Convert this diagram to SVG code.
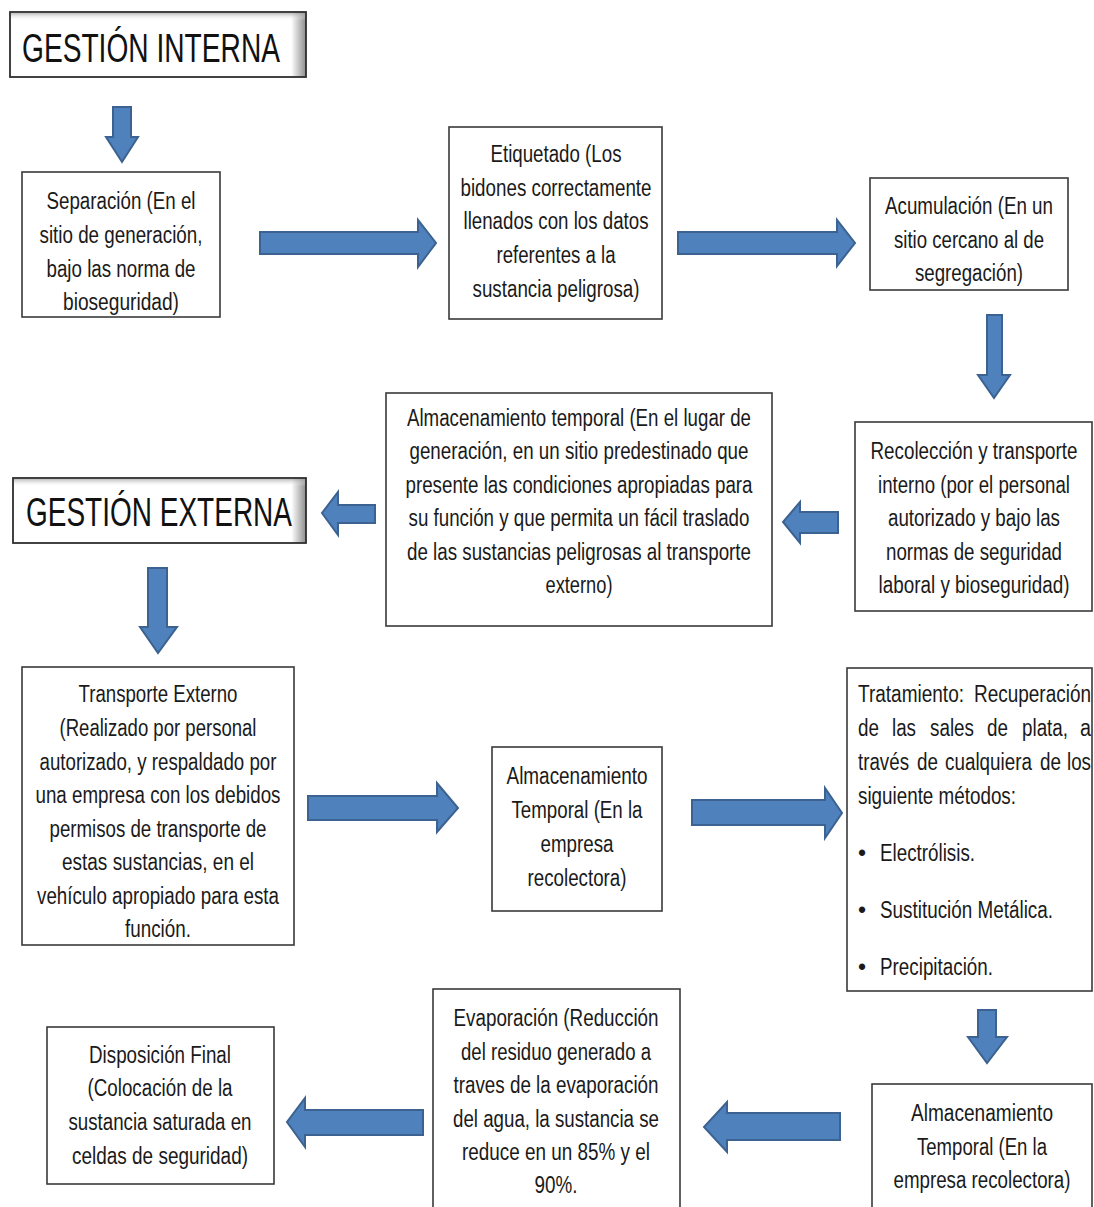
<svg xmlns="http://www.w3.org/2000/svg" width="1094" height="1207" viewBox="0 0 1094 1207">
<style>
  .box { fill: #ffffff; stroke: #3a3a3a; stroke-width: 1.6; }
  .hbox { stroke: #2e2e2e; stroke-width: 1.8; }
  .t { font-family: "Liberation Sans Narrow", "Liberation Sans", Arial, sans-serif; font-size: 23px; fill: #1a1a1a; text-anchor: middle; }
  .l { text-anchor: start; }
  .h { font-family: "Liberation Sans Narrow", "Liberation Sans", Arial, sans-serif; font-size: 41px; fill: #111111; }
  .arr { fill: #4f81bd; stroke: #3b6290; stroke-width: 2; stroke-linejoin: miter; }
</style>
<defs>
  <linearGradient id="shadeR" x1="0" y1="0" x2="1" y2="0">
    <stop offset="0" stop-color="#ffffff"/>
    <stop offset="0.95" stop-color="#ffffff"/>
    <stop offset="1" stop-color="#8c8c8c"/>
  </linearGradient>
  <linearGradient id="shadeT" x1="0" y1="0" x2="0" y2="1">
    <stop offset="0" stop-color="#a0a0a0" stop-opacity="0.7"/>
    <stop offset="0.12" stop-color="#ffffff" stop-opacity="0"/>
    <stop offset="1" stop-color="#ffffff" stop-opacity="0"/>
  </linearGradient>
</defs>
<rect width="1094" height="1207" fill="#ffffff"/>

<g id="connectors">
  <path class="arr" d="M113,107 H131 V137 H138 L122,162 L106,137 H113 Z"/>
  <path class="arr" d="M260,232 H418 V220 L436,243 L418,267 V254 H260 Z"/>
  <path class="arr" d="M678,232 H837 V220 L855,243 L837,266 V254 H678 Z"/>
  <path class="arr" d="M987,315 H1002 V375 H1010 L994,398 L978,375 H987 Z"/>
  <path class="arr" d="M838,512 H800 V502 L783,522 L800,543 V533 H838 Z"/>
  <path class="arr" d="M375,505 H338 V492 L322,513 L338,535 V523 H375 Z"/>
  <path class="arr" d="M148,568 H167 V627 H177 L158,653 L140,627 H148 Z"/>
  <path class="arr" d="M308,796 H437 V783 L458,808 L437,832 V820 H308 Z"/>
  <path class="arr" d="M692,800 H825 V788 L842,813 L825,838 V825 H692 Z"/>
  <path class="arr" d="M978,1010 H996 V1037 H1007 L987,1063 L968,1037 H978 Z"/>
  <path class="arr" d="M840,1113 H727 V1102 L704,1127 L727,1152 V1140 H840 Z"/>
  <path class="arr" d="M423,1110 H305 V1098 L287,1122 L305,1147 V1135 H423 Z"/>
</g>

<g id="gestion-interna">
  <rect class="hbox" x="10" y="12" width="296" height="65" fill="url(#shadeR)"/>
  <rect x="11" y="13" width="294" height="63" fill="url(#shadeT)"/>
  <text class="h" x="22" y="62" textLength="258" lengthAdjust="spacingAndGlyphs">GESTIÓN INTERNA</text>
</g>

<g id="separacion">
  <rect class="box" x="22" y="172" width="198" height="145"/>
  <text class="t" x="121" y="209" textLength="149" lengthAdjust="spacingAndGlyphs">Separación (En el</text>
  <text class="t" x="121" y="243" textLength="163" lengthAdjust="spacingAndGlyphs">sitio de generación,</text>
  <text class="t" x="121" y="277" textLength="149" lengthAdjust="spacingAndGlyphs">bajo las norma de</text>
  <text class="t" x="121" y="310" textLength="116" lengthAdjust="spacingAndGlyphs">bioseguridad)</text>
</g>

<g id="etiquetado">
  <rect class="box" x="449" y="127" width="213" height="192"/>
  <text class="t" x="556" y="162" textLength="131" lengthAdjust="spacingAndGlyphs">Etiquetado (Los</text>
  <text class="t" x="556" y="196" textLength="191" lengthAdjust="spacingAndGlyphs">bidones correctamente</text>
  <text class="t" x="556" y="229" textLength="185" lengthAdjust="spacingAndGlyphs">llenados con los datos</text>
  <text class="t" x="556" y="263" textLength="119" lengthAdjust="spacingAndGlyphs">referentes a la</text>
  <text class="t" x="556" y="297" textLength="167" lengthAdjust="spacingAndGlyphs">sustancia peligrosa)</text>
</g>

<g id="acumulacion">
  <rect class="box" x="870" y="178" width="198" height="112"/>
  <text class="t" x="969" y="214" textLength="168" lengthAdjust="spacingAndGlyphs">Acumulación (En un</text>
  <text class="t" x="969" y="248" textLength="150" lengthAdjust="spacingAndGlyphs">sitio cercano al de</text>
  <text class="t" x="969" y="281" textLength="108" lengthAdjust="spacingAndGlyphs">segregación)</text>
</g>

<g id="recoleccion">
  <rect class="box" x="855" y="422" width="237" height="189"/>
  <text class="t" x="974" y="459" textLength="207" lengthAdjust="spacingAndGlyphs">Recolección y transporte</text>
  <text class="t" x="974" y="493" textLength="192" lengthAdjust="spacingAndGlyphs">interno (por el personal</text>
  <text class="t" x="974" y="526" textLength="172" lengthAdjust="spacingAndGlyphs">autorizado y bajo las</text>
  <text class="t" x="974" y="560" textLength="176" lengthAdjust="spacingAndGlyphs">normas de seguridad</text>
  <text class="t" x="974" y="593" textLength="191" lengthAdjust="spacingAndGlyphs">laboral y bioseguridad)</text>
</g>

<g id="almacenamiento-temporal-1">
  <rect class="box" x="386" y="393" width="386" height="233"/>
  <text class="t" x="579" y="426" textLength="344" lengthAdjust="spacingAndGlyphs">Almacenamiento temporal (En el lugar de</text>
  <text class="t" x="579" y="459" textLength="339" lengthAdjust="spacingAndGlyphs">generación, en un sitio predestinado que</text>
  <text class="t" x="579" y="493" textLength="347" lengthAdjust="spacingAndGlyphs">presente las condiciones apropiadas para</text>
  <text class="t" x="579" y="526" textLength="341" lengthAdjust="spacingAndGlyphs">su función y que permita un fácil traslado</text>
  <text class="t" x="579" y="560" textLength="344" lengthAdjust="spacingAndGlyphs">de las sustancias peligrosas al transporte</text>
  <text class="t" x="579" y="593" textLength="67" lengthAdjust="spacingAndGlyphs">externo)</text>
</g>

<g id="gestion-externa">
  <rect class="hbox" x="13" y="478" width="293" height="65" fill="url(#shadeR)"/>
  <rect x="14" y="479" width="291" height="63" fill="url(#shadeT)"/>
  <text class="h" x="26" y="526" textLength="266" lengthAdjust="spacingAndGlyphs">GESTIÓN EXTERNA</text>
</g>

<g id="transporte-externo">
  <rect class="box" x="22" y="667" width="272" height="278"/>
  <text class="t" x="158" y="702" textLength="159" lengthAdjust="spacingAndGlyphs">Transporte Externo</text>
  <text class="t" x="158" y="736" textLength="197" lengthAdjust="spacingAndGlyphs">(Realizado por personal</text>
  <text class="t" x="158" y="770" textLength="237" lengthAdjust="spacingAndGlyphs">autorizado, y respaldado por</text>
  <text class="t" x="158" y="803" textLength="245" lengthAdjust="spacingAndGlyphs">una empresa con los debidos</text>
  <text class="t" x="158" y="837" textLength="217" lengthAdjust="spacingAndGlyphs">permisos de transporte de</text>
  <text class="t" x="158" y="870" textLength="192" lengthAdjust="spacingAndGlyphs">estas sustancias, en el</text>
  <text class="t" x="158" y="904" textLength="242" lengthAdjust="spacingAndGlyphs">vehículo apropiado para esta</text>
  <text class="t" x="158" y="937" textLength="66" lengthAdjust="spacingAndGlyphs">función.</text>
</g>

<g id="almacenamiento-temporal-2">
  <rect class="box" x="492" y="747" width="170" height="164"/>
  <text class="t" x="577" y="784" textLength="141" lengthAdjust="spacingAndGlyphs">Almacenamiento</text>
  <text class="t" x="577" y="818" textLength="131" lengthAdjust="spacingAndGlyphs">Temporal (En la</text>
  <text class="t" x="577" y="852" textLength="73" lengthAdjust="spacingAndGlyphs">empresa</text>
  <text class="t" x="577" y="886" textLength="99" lengthAdjust="spacingAndGlyphs">recolectora)</text>
</g>

<g id="tratamiento">
  <rect class="box" x="847" y="668" width="245" height="323"/>
  <text class="t l" x="858" y="702" textLength="106" lengthAdjust="spacingAndGlyphs">Tratamiento:</text>
  <text class="t l" x="974" y="702" textLength="117" lengthAdjust="spacingAndGlyphs">Recuperación</text>
  <text class="t l" x="858" y="736" textLength="21" lengthAdjust="spacingAndGlyphs">de</text>
  <text class="t l" x="892" y="736" textLength="24" lengthAdjust="spacingAndGlyphs">las</text>
  <text class="t l" x="930" y="736" textLength="44" lengthAdjust="spacingAndGlyphs">sales</text>
  <text class="t l" x="987" y="736" textLength="21" lengthAdjust="spacingAndGlyphs">de</text>
  <text class="t l" x="1022" y="736" textLength="46" lengthAdjust="spacingAndGlyphs">plata,</text>
  <text class="t l" x="1080" y="736" textLength="11" lengthAdjust="spacingAndGlyphs">a</text>
  <text class="t l" x="858" y="770" textLength="51" lengthAdjust="spacingAndGlyphs">través</text>
  <text class="t l" x="917" y="770" textLength="21" lengthAdjust="spacingAndGlyphs">de</text>
  <text class="t l" x="945" y="770" textLength="87" lengthAdjust="spacingAndGlyphs">cualquiera</text>
  <text class="t l" x="1040" y="770" textLength="21" lengthAdjust="spacingAndGlyphs">de</text>
  <text class="t l" x="1067" y="770" textLength="24" lengthAdjust="spacingAndGlyphs">los</text>
  <text class="t l" x="858" y="804" textLength="158" lengthAdjust="spacingAndGlyphs">siguiente métodos:</text>
  <text class="t l" x="858" y="861">•</text>
  <text class="t l" x="880" y="861" textLength="95" lengthAdjust="spacingAndGlyphs">Electrólisis.</text>
  <text class="t l" x="858" y="918">•</text>
  <text class="t l" x="880" y="918" textLength="173" lengthAdjust="spacingAndGlyphs">Sustitución Metálica.</text>
  <text class="t l" x="858" y="975">•</text>
  <text class="t l" x="880" y="975" textLength="113" lengthAdjust="spacingAndGlyphs">Precipitación.</text>
</g>

<g id="almacenamiento-temporal-3">
  <rect class="box" x="872" y="1084" width="220" height="150"/>
  <text class="t" x="982" y="1121" textLength="142" lengthAdjust="spacingAndGlyphs">Almacenamiento</text>
  <text class="t" x="982" y="1155" textLength="130" lengthAdjust="spacingAndGlyphs">Temporal (En la</text>
  <text class="t" x="982" y="1188" textLength="177" lengthAdjust="spacingAndGlyphs">empresa recolectora)</text>
</g>

<g id="evaporacion">
  <rect class="box" x="433" y="989" width="247" height="240"/>
  <text class="t" x="556" y="1026" textLength="205" lengthAdjust="spacingAndGlyphs">Evaporación (Reducción</text>
  <text class="t" x="556" y="1060" textLength="190" lengthAdjust="spacingAndGlyphs">del residuo generado a</text>
  <text class="t" x="556" y="1093" textLength="205" lengthAdjust="spacingAndGlyphs">traves de la evaporación</text>
  <text class="t" x="556" y="1127" textLength="206" lengthAdjust="spacingAndGlyphs">del agua, la sustancia se</text>
  <text class="t" x="556" y="1160" textLength="188" lengthAdjust="spacingAndGlyphs">reduce en un 85% y el</text>
  <text class="t" x="556" y="1193" textLength="43" lengthAdjust="spacingAndGlyphs">90%.</text>
</g>

<g id="disposicion-final">
  <rect class="box" x="47" y="1027" width="227" height="157"/>
  <text class="t" x="160" y="1063" textLength="142" lengthAdjust="spacingAndGlyphs">Disposición Final</text>
  <text class="t" x="160" y="1096" textLength="145" lengthAdjust="spacingAndGlyphs">(Colocación de la</text>
  <text class="t" x="160" y="1130" textLength="183" lengthAdjust="spacingAndGlyphs">sustancia saturada en</text>
  <text class="t" x="160" y="1164" textLength="176" lengthAdjust="spacingAndGlyphs">celdas de seguridad)</text>
</g>
</svg>
